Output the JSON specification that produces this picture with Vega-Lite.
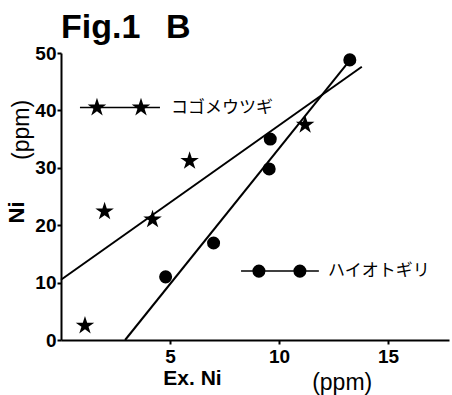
{
  "$schema": "https://vega.github.io/schema/vega-lite/v6.json",
  "width": 388,
  "height": 287,
  "autosize": "none",
  "padding": {"left": 61, "top": 53, "right": 3, "bottom": 55},
  "background": "white",
  "title": {
    "text": "Fig.1\u00a0\u00a0\u2009B",
    "anchor": "start",
    "frame": "group",
    "font": "Liberation Sans",
    "fontSize": 34,
    "fontWeight": "bold",
    "color": "black",
    "offset": -1
  },
  "config": {
    "view": {"stroke": null},
    "axis": {
      "grid": false,
      "domainColor": "black",
      "domainWidth": 2,
      "tickColor": "black",
      "tickWidth": 2,
      "labelColor": "black",
      "labelFont": "Liberation Sans",
      "labelFontWeight": "bold",
      "labelFontSize": 19,
      "titleColor": "black",
      "titleFont": "Liberation Sans",
      "titleFontWeight": "bold",
      "titleFontSize": 21
    }
  },
  "datasets": {
    "points": [
      {"x": 1.1, "y": 2.5, "species": "star"},
      {"x": 2.0, "y": 22.4, "species": "star"},
      {"x": 4.2, "y": 21.0, "species": "star"},
      {"x": 5.9, "y": 31.2, "species": "star"},
      {"x": 11.2, "y": 37.5, "species": "star"},
      {"x": 4.8, "y": 11.0, "species": "circle"},
      {"x": 7.0, "y": 16.9, "species": "circle"},
      {"x": 9.6, "y": 35.0, "species": "circle"},
      {"x": 9.55, "y": 29.8, "species": "circle"},
      {"x": 13.25, "y": 48.8, "species": "circle"}
    ],
    "fits": [
      {"x": 0, "y": 10.5, "line": "star"},
      {"x": 13.8, "y": 47.6, "line": "star"},
      {"x": 2.94, "y": 0, "line": "circle"},
      {"x": 13.1, "y": 48.0, "line": "circle"}
    ],
    "keyLines": [
      {"x": 0.87, "y": 40.5, "line": "star"},
      {"x": 4.54, "y": 40.5, "line": "star"},
      {"x": 8.26, "y": 12.0, "line": "circle"},
      {"x": 11.83, "y": 12.0, "line": "circle"}
    ],
    "keyPoints": [
      {"x": 1.65, "y": 40.5, "species": "star"},
      {"x": 3.67, "y": 40.5, "species": "star"},
      {"x": 9.08, "y": 12.0, "species": "circle"},
      {"x": 10.96, "y": 12.0, "species": "circle"}
    ],
    "keyText": [
      {"x": 5.05, "y": 40.5, "label": "コゴメウツギ"},
      {"x": 12.25, "y": 12.0, "label": "ハイオトギリ"}
    ],
    "units": [
      {"x": 12.9, "y": -7.5, "label": "(ppm)", "angle": 0},
      {"x": -1.79, "y": 36.6, "label": "(ppm)", "angle": 270}
    ]
  },
  "layer": [
    {
      "data": {"name": "fits"},
      "mark": {"type": "line", "color": "black", "strokeWidth": 2, "clip": false},
      "encoding": {
        "x": {
          "field": "x", "type": "quantitative",
          "scale": {"domain": [0, 17.8], "nice": false, "zero": false},
          "axis": {
            "values": [5, 10, 15],
            "title": "Ex. Ni",
            "titleX": 131,
            "titleY": 38,
            "titleBaseline": "middle",
            "titleAnchor": "start",
            "titleAlign": "center",
            "tickSize": 4,
            "labelPadding": 3
          }
        },
        "y": {
          "field": "y", "type": "quantitative",
          "scale": {"domain": [0, 50], "nice": false},
          "axis": {
            "values": [0, 10, 20, 30, 40, 50],
            "title": "Ni",
            "titleX": -45,
            "titleY": 159,
            "titleAngle": 270,
            "titleAlign": "center",
            "titleBaseline": "middle",
            "titleAnchor": "start",
            "titleFontSize": 22,
            "tickSize": 4,
            "labelPadding": 1
          }
        },
        "detail": {"field": "line"}
      }
    },
    {
      "data": {"name": "keyLines"},
      "mark": {"type": "line", "color": "black", "strokeWidth": 1.5},
      "encoding": {
        "x": {"field": "x", "type": "quantitative"},
        "y": {"field": "y", "type": "quantitative"},
        "detail": {"field": "line"}
      }
    },
    {
      "data": {"name": "points"},
      "mark": {"type": "point", "filled": true, "color": "black", "opacity": 1},
      "encoding": {
        "x": {"field": "x", "type": "quantitative"},
        "y": {"field": "y", "type": "quantitative"},
        "shape": {
          "field": "species", "type": "nominal", "legend": null,
          "scale": {"domain": ["star", "circle"], "range": ["M0,-1L0.2245,-0.309L0.951,-0.309L0.363,0.118L0.588,0.809L0,0.382L-0.588,0.809L-0.363,0.118L-0.951,-0.309L-0.2245,-0.309Z", "circle"]}
        },
        "size": {
          "field": "species", "type": "nominal", "legend": null,
          "scale": {"domain": ["star", "circle"], "range": [380, 170]}
        }
      }
    },
    {
      "data": {"name": "keyPoints"},
      "mark": {"type": "point", "filled": true, "color": "black", "opacity": 1},
      "encoding": {
        "x": {"field": "x", "type": "quantitative"},
        "y": {"field": "y", "type": "quantitative"},
        "shape": {"field": "species", "type": "nominal", "legend": null},
        "size": {"field": "species", "type": "nominal", "legend": null}
      }
    },
    {
      "data": {"name": "keyText"},
      "mark": {"type": "text", "align": "left", "baseline": "middle", "font": "Noto Sans CJK JP", "fontSize": 17, "color": "black"},
      "encoding": {
        "x": {"field": "x", "type": "quantitative"},
        "y": {"field": "y", "type": "quantitative"},
        "text": {"field": "label"}
      }
    },
    {
      "data": {"name": "units"},
      "mark": {"type": "text", "align": "center", "baseline": "middle", "font": "Liberation Sans", "fontSize": 23, "color": "black"},
      "encoding": {
        "x": {"field": "x", "type": "quantitative"},
        "y": {"field": "y", "type": "quantitative"},
        "text": {"field": "label"},
        "angle": {"field": "angle", "type": "quantitative", "scale": null}
      }
    }
  ]
}
